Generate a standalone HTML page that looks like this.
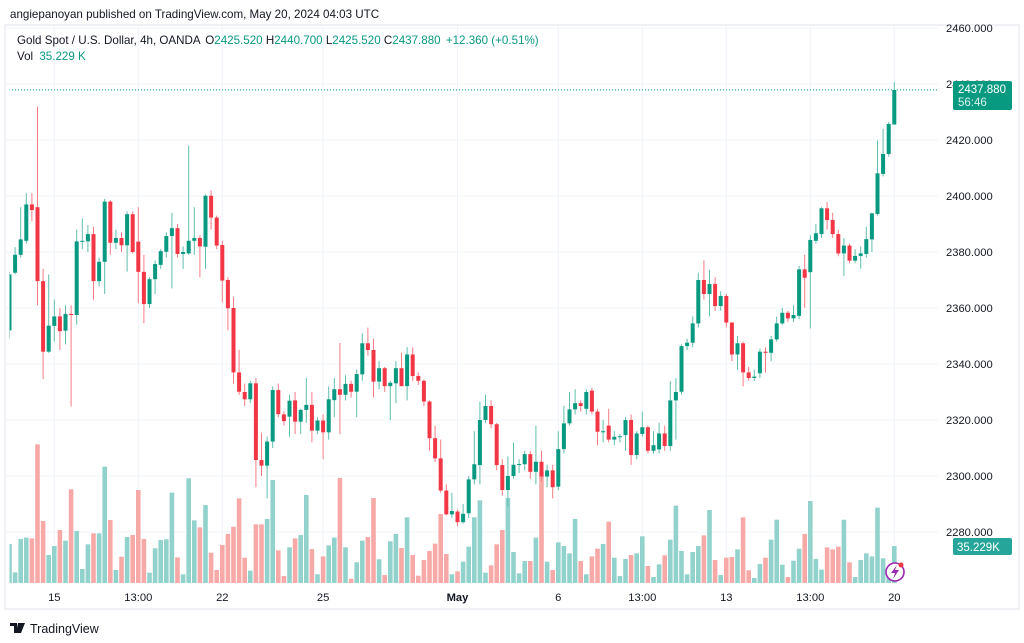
<!DOCTYPE html>
<html><head><meta charset="utf-8">
<style>
html,body{margin:0;padding:0;background:#fff;width:1024px;height:643px;overflow:hidden;}
svg{display:block;font-family:"Liberation Sans",sans-serif;}
</style></head>
<body>
<svg id="chart" width="1024" height="643" viewBox="0 0 1024 643">
  <text x="10" y="18" font-size="11.6" fill="#131722">angiepanoyan published on TradingView.com, May 20, 2024 04:03 UTC</text>
  <rect x="5" y="25" width="1014" height="584" fill="none" stroke="#e0e3eb" stroke-width="1"/>
  <g id="grid"></g>
  <defs><clipPath id="pane"><rect x="9.5" y="26" width="928.5" height="557"/></clipPath></defs>
  <g id="vol" clip-path="url(#pane)"></g>
  <g id="candles" clip-path="url(#pane)"></g>
  <g id="yaxis"></g>
  <g id="xaxis"></g>
  <g font-size="11.6">
    <text x="17" y="44" fill="#131722">Gold Spot / U.S. Dollar, 4h, OANDA <tspan dx="2">O</tspan><tspan fill="#089981">2425.520</tspan> <tspan>H</tspan><tspan fill="#089981">2440.700</tspan> <tspan>L</tspan><tspan fill="#089981">2425.520</tspan> <tspan>C</tspan><tspan fill="#089981">2437.880</tspan> <tspan fill="#089981" dx="2">+12.360 (+0.51%)</tspan></text>
    <text x="17" y="60" fill="#131722">Vol <tspan fill="#089981" dx="3">35.229 K</tspan></text>
  </g>
  <g id="labels-top"></g>
</svg>
<script>
const opens=[2352,2372.6,2379,2384,2397,2396,2369.6,2344.4,2353.6,2357,2351.9,2357.9,2357.5,2383.8,2383.8,2386.4,2369.6,2376.5,2398,2383.3,2385,2382.4,2393.5,2383.7,2372.9,2361.4,2370.3,2375.4,2380.1,2385.7,2388.5,2379.3,2379.5,2384,2385,2381.9,2400.1,2392.3,2382.5,2370,2360,2337,2330,2327.4,2333.1,2305.7,2303.7,2312.3,2330.7,2322,2321.2,2327,2319.4,2323.6,2325.4,2316.2,2319.8,2315.6,2327.1,2331,2329,2332.9,2330.1,2336.3,2347.4,2345,2333.7,2338.5,2332.1,2333.1,2338.5,2332.1,2343.4,2335.7,2334,2326.6,2313.5,2306.3,2294.8,2286.3,2287.3,2283.5,2286.7,2298.8,2303.9,2320,2325,2318.5,2303.9,2295,2300,2304,2304.2,2307.8,2301.5,2305.1,2299.8,2302,2296.2,2309.6,2318.8,2323.8,2326,2324,2330.5,2323,2315.6,2318,2313,2314,2314.6,2320,2307.5,2315,2317.4,2309,2309.5,2315.2,2310.7,2327,2330.1,2346.4,2347.6,2354.5,2370,2365,2368.6,2360.7,2364.3,2354.8,2343.4,2347.4,2337,2335,2336.7,2344.4,2344,2348.8,2354.5,2358.3,2356.3,2357.2,2373.8,2372.8,2384,2386.4,2395.6,2391.4,2386.4,2379.5,2382.3,2376.9,2378.6,2379.3,2384.5,2393.6,2407.9,2415,2425.52];
const highs=[2373,2381.7,2396,2401,2401,2432,2374,2372,2363,2360,2361,2361,2388,2392,2389.6,2389,2378,2399,2398.5,2388,2387,2394.5,2394.5,2396,2379,2371,2377,2381,2387,2394,2390,2382,2418,2396,2386,2400.5,2402,2393,2384,2371,2364,2345,2333,2334,2335,2315.5,2314,2332,2333,2323,2329,2330,2324,2335,2330,2321,2322,2332,2335,2347.5,2336,2334,2338,2351,2353,2349,2341,2339,2334,2341,2344,2346,2346,2337,2334.5,2327,2318,2313,2297,2294,2288,2290,2300,2316,2326.6,2329,2327,2319,2306,2307,2312,2306,2309,2309,2318,2309,2304,2304,2316,2325,2330,2331,2327,2331,2331.5,2324,2320,2324,2316,2315,2321,2322,2316,2323,2318,2316,2319,2318,2334,2335,2347,2349,2357,2372.6,2377,2373.6,2371,2366,2365,2355,2350,2348,2339,2338,2345.5,2346,2350,2357,2360,2359,2361,2375,2379,2386,2390,2396,2397.8,2394,2388,2385,2383,2381,2382,2389,2394,2419.8,2424,2426.5,2440.7];
const lows=[2349,2372,2378,2383,2391,2361,2334.6,2344,2348,2345,2347,2324.8,2354,2381,2380,2363,2367.7,2365,2379,2381,2380,2373,2379.5,2361.7,2354.6,2360,2365,2374,2378,2367,2378,2374,2379,2379,2371,2374,2388,2381,2362,2352,2333,2329,2325,2326,2296,2300,2292,2310,2321,2318,2314,2315,2315,2319,2312,2315,2306,2313,2321,2315,2327,2328,2321,2334,2343,2328,2331,2330,2320,2326,2332,2327,2334,2332.5,2325,2309,2305,2294,2286,2285,2282,2283,2285,2297,2297,2319,2317,2302,2293,2289,2299,2301,2302,2299,2297,2298,2296,2292,2295,2308,2318,2322,2323,2322,2322,2311,2312,2312,2311,2312,2309,2304,2306,2314,2308,2308,2308,2309,2309,2313,2329,2345,2346,2353,2363,2357,2359,2359,2353,2341,2338,2332,2334,2334,2335,2337,2341,2348,2354,2355,2355,2356,2360,2352.7,2383,2385,2388,2385,2378.5,2371.4,2376,2376,2374,2378,2380,2393,2407,2414,2425.52];
const closes=[2372,2379,2384.5,2397,2395,2369.6,2344.4,2353.7,2357,2351.7,2357.9,2357.5,2383.8,2384,2386.4,2369.6,2376.5,2398,2383.3,2385,2382.4,2393.5,2380,2372.9,2361.4,2370.3,2375.7,2380.3,2385.7,2388.5,2379.3,2380,2384,2385,2382,2400.1,2392.3,2382.3,2369.8,2359.9,2337,2330.1,2327.4,2333.1,2305.7,2303.7,2312.3,2330.7,2322.1,2319.6,2326.9,2319.4,2323.6,2325.4,2316.2,2319.8,2315.6,2327.4,2331,2329,2332.9,2330.1,2336.4,2347.4,2345,2333.7,2338.5,2332.1,2333.3,2338.5,2332.1,2343.4,2335.7,2334,2326.6,2313.5,2306.3,2294.8,2286.3,2287.5,2283.5,2286.5,2298.8,2304.2,2320,2325,2318.5,2303.9,2295,2300,2304,2304.3,2307.8,2301.5,2305.1,2299.8,2302,2296,2309.6,2318.8,2323.8,2326,2325,2330,2323,2315.8,2316,2313,2314,2314.2,2320,2307.5,2315.2,2317.4,2309,2311,2315.2,2310.7,2327,2330,2346.4,2347.6,2354.5,2370,2365,2368.6,2360.7,2364.3,2354.8,2343.4,2347.4,2337,2335,2335.5,2344.4,2344,2348.8,2354.5,2358.3,2356.3,2357.5,2373.8,2370.8,2384.3,2386.7,2395.6,2391.4,2386.4,2379.5,2382.3,2376.9,2378.6,2379.5,2384.6,2393.8,2408.1,2415,2425.7,2437.88];
const volumes=[37.1,10.8,41.7,43.0,42.3,129.5,58.4,26.9,35.2,50.1,40.2,87.8,49.1,13.9,36.8,47.0,47.0,108.8,59.3,13.0,25.3,43.6,45.4,87.1,41.7,10.5,33.1,40.8,41.4,84.7,24.7,9.0,98.0,59.0,52.5,73.2,29.0,13.0,36.2,46.4,53.1,79.4,24.4,12.4,55.3,55.3,60.3,96.4,31.2,7.4,34.0,42.3,45.4,82.5,32.4,9.0,25.6,35.8,43.0,98.3,34.0,4.9,20.1,40.2,43.6,79.7,22.9,8.3,39.6,46.4,33.4,61.8,26.9,7.7,22.2,30.6,37.4,64.9,27.8,9.0,11.7,20.7,34.6,61.8,77.6,10.5,17.3,36.8,50.1,79.7,29.7,9.9,21.3,21.3,43.0,104.1,20.7,13.0,38.6,35.2,28.4,60.3,21.3,9.0,25.6,32.8,37.1,57.8,24.4,7.4,23.2,26.9,28.4,44.2,16.7,6.5,18.2,26.6,41.1,72.6,30.6,9.0,29.7,35.2,45.1,68.6,22.2,8.3,24.4,25.0,32.1,61.8,12.7,5.6,18.5,24.4,41.1,59.6,17.9,6.5,21.6,32.8,46.4,76.9,23.2,13.3,34.0,32.1,34.6,59.6,20.1,6.5,22.2,28.4,25.6,70.8,23.8,9.9,35.2];
const priceTicks=[2460,2440,2420,2400,2380,2360,2340,2320,2300,2280];
const timeLabels=["15","13:00","22","25","May","6","13:00","13","13:00","20"];
const timeLabelIdx=[8,23,38,56,80,98,113,128,143,158];

const NS="http://www.w3.org/2000/svg";
function yP(p){return 28+(2460-p)*2.8;}
function xI(i){return 9.5+5.6*i;}
function yV(v){return 584-v*1.0787;}
function mk(tag,attrs,parent){const e=document.createElementNS(NS,tag);for(const k in attrs)e.setAttribute(k,attrs[k]);parent.appendChild(e);return e;}

const grid=document.getElementById('grid'),yaxis=document.getElementById('yaxis'),xaxis=document.getElementById('xaxis');
priceTicks.forEach(p=>{
  const l=mk('line',{x1:6,x2:938,y1:yP(p),y2:yP(p),stroke:'#f0f3fa','stroke-width':1},grid);
  
  
  const t=mk('text',{x:946,y:yP(p)+4,'font-size':11.2,fill:'#131722'},yaxis);
  t.textContent=p.toFixed(3);
  
  
});
timeLabels.forEach((s,k)=>{
  const x=xI(timeLabelIdx[k]);
  const l=mk('line',{x1:x,x2:x,y1:26,y2:583,stroke:'#f0f3fa','stroke-width':1},grid);
  
  
  const t=mk('text',{x:x,y:601,'font-size':11.2,fill:'#131722','text-anchor':'middle','font-weight':s==='May'?'bold':'normal'},xaxis);
  t.textContent=s;
  
  
});
const vg=document.getElementById('vol');
volumes.forEach((v,i)=>{
  const up=closes[i]>=opens[i];
  const r=mk('rect',{x:xI(i)-2.3,y:yV(v),width:4.6,height:584-yV(v),fill:up?'#92d2cc':'#f7a9a7'},vg);
  
  
});
const cg=document.getElementById('candles');
{const d=mk('line',{x1:6,x2:938,y1:yP(closes[closes.length-1]),y2:yP(closes[closes.length-1]),stroke:'#089981','stroke-width':1,'stroke-dasharray':'1 2'},cg);

}
opens.forEach((o,i)=>{
  const c=closes[i],up=c>=o,col=up?'#089981':'#f23645',x=xI(i);
  const w=mk('line',{x1:x,x2:x,y1:yP(highs[i]),y2:yP(lows[i]),stroke:up?'#5fbfae':'#f77c86','stroke-width':1},cg);
  
  
  const top=yP(Math.max(o,c)),bot=yP(Math.min(o,c));
  const b=mk('rect',{x:x-2,y:top,width:4,height:Math.max(1,bot-top),fill:col},cg);
  
  
});
</script>
<svg width="1024" height="643" viewBox="0 0 1024 643" style="position:absolute;left:0;top:0;pointer-events:none">
  <g>
    <rect x="953" y="81" width="59" height="29" rx="2" fill="#089981"/>
    <text x="958" y="93" font-size="11.5" fill="#fff" font-family="Liberation Sans, sans-serif">2437.880</text>
    <text x="958" y="106" font-size="11.5" fill="#d8f0ec" font-family="Liberation Sans, sans-serif">56:46</text>
  </g>
  <g>
    <rect x="953" y="538" width="59" height="17" rx="2" fill="#26a69a"/>
    <text x="957" y="551" font-size="11.5" fill="#fff" font-family="Liberation Sans, sans-serif">35.229K</text>
  </g>
  <g>
    <circle cx="895" cy="572" r="9" fill="#fff" stroke="#9c27b0" stroke-width="1.6"/>
    <path d="M897 565 L891 573 L895 573 L893 579 L899 570 L895 570 Z" fill="#9c27b0"/>
    <circle cx="901" cy="565" r="2.5" fill="#f23645"/>
  </g>
  <g>
    <path d="M10 623 h7 v10 h-3 v-7 h-4 z M18 623 h3 l-2 10 h-3 z M21 623 h4 l-4 10 h-2 z" fill="#131722"/>
    <text x="30" y="633" font-size="12.5" fill="#131722" font-family="Liberation Sans, sans-serif">TradingView</text>
  </g>
</svg>
</body></html>
